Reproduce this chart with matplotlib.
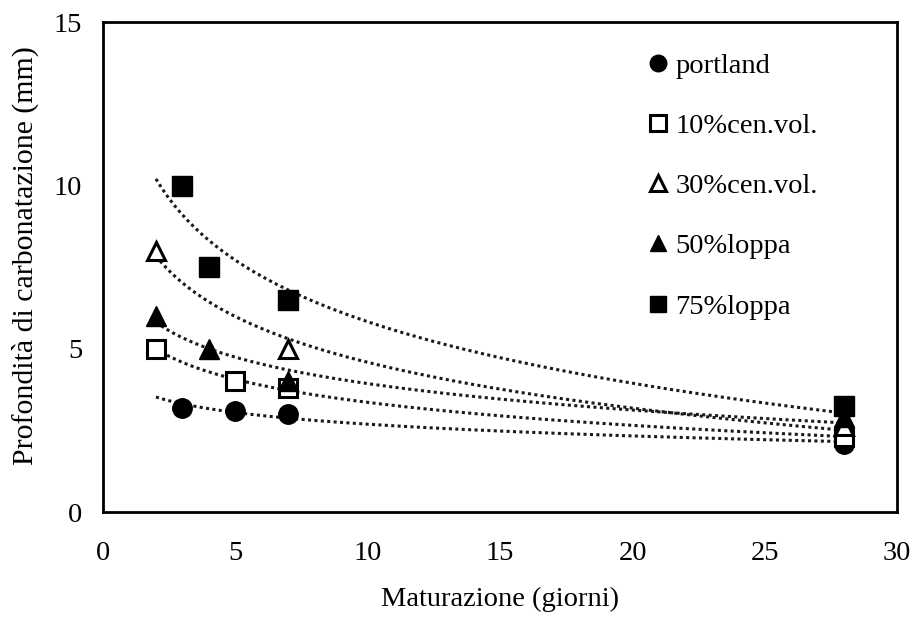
import numpy as np
import matplotlib

matplotlib.use("Agg")
import matplotlib.pyplot as plt

plt.rcParams["font.family"] = ["Liberation Serif", "DejaVu Serif"]

# carbonation depth (mm) vs curing time (days)
portland_x = [3, 5, 7, 28]
portland_y = [3.2, 3.1, 3.0, 2.1]
cv10_x = [2, 5, 7, 28]
cv10_y = [5.0, 4.0, 3.8, 2.3]
cv30_x = [2, 7, 28]
cv30_y = [8.0, 5.0, 2.65]
loppa50_x = [2, 4, 7, 28]
loppa50_y = [6.0, 5.0, 4.0, 2.9]
loppa75_x = [3, 4, 7, 28]
loppa75_y = [10.0, 7.5, 6.5, 3.25]

labels = ["portland", "10%cen.vol.", "30%cen.vol.", "50%loppa", "75%loppa"]
xticks = [0, 5, 10, 15, 20, 25, 30]
yticks = [0, 5, 10, 15]

series = [
    (portland_x, portland_y, dict(marker="o", mfc="black", ms=14)),
    (cv10_x, cv10_y, dict(marker="s", mfc="white", ms=13, mew=2.2)),
    (cv30_x, cv30_y, dict(marker="^", mfc="white", ms=13, mew=2.2)),
    (loppa50_x, loppa50_y, dict(marker="^", mfc="black", ms=14)),
    (loppa75_x, loppa75_y, dict(marker="s", mfc="black", ms=14)),
]

FS = 20.5

fig = plt.figure(figsize=(9.15, 6.17), dpi=100)
ax = fig.add_axes([0.1126, 0.170, 0.868, 0.794])

xfit = np.linspace(2, 28, 200)
for (x, y, style), lab in zip(series, labels):
    # logarithmic trend line y = a*ln(x) + b
    a, b = np.polyfit(np.log(x), y, 1)
    ax.plot(xfit, a * np.log(xfit) + b, ls=(0, (1, 1.1)), lw=2.2, color="#1a1a1a", zorder=1)
    ax.plot(x, y, ls="none", color="black", mec="black", label=lab, zorder=3, **style)

ax.set_xlim(0, 30)
ax.set_ylim(0, 15)
ax.set_xticks(xticks)
ax.set_yticks(yticks)
ax.tick_params(length=0, labelsize=FS)
ax.tick_params(axis="x", pad=21)
ax.tick_params(axis="y", pad=15)
for s in ax.spines.values():
    s.set_linewidth(2.0)

ax.set_xlabel("Maturazione (giorni)", fontsize=FS, labelpad=15)
ax.set_ylabel("Profondità di carbonatazione (mm)", fontsize=21.5)
ax.yaxis.set_label_coords(-0.08, 0.524)

ax.legend(loc="upper left", bbox_to_anchor=(0.674, 0.96), frameon=False,
          fontsize=FS, markerscale=0.85, handlelength=0.6, handletextpad=0.3,
          labelspacing=1.2, borderaxespad=0)

fig.savefig("out.png", dpi=100)
